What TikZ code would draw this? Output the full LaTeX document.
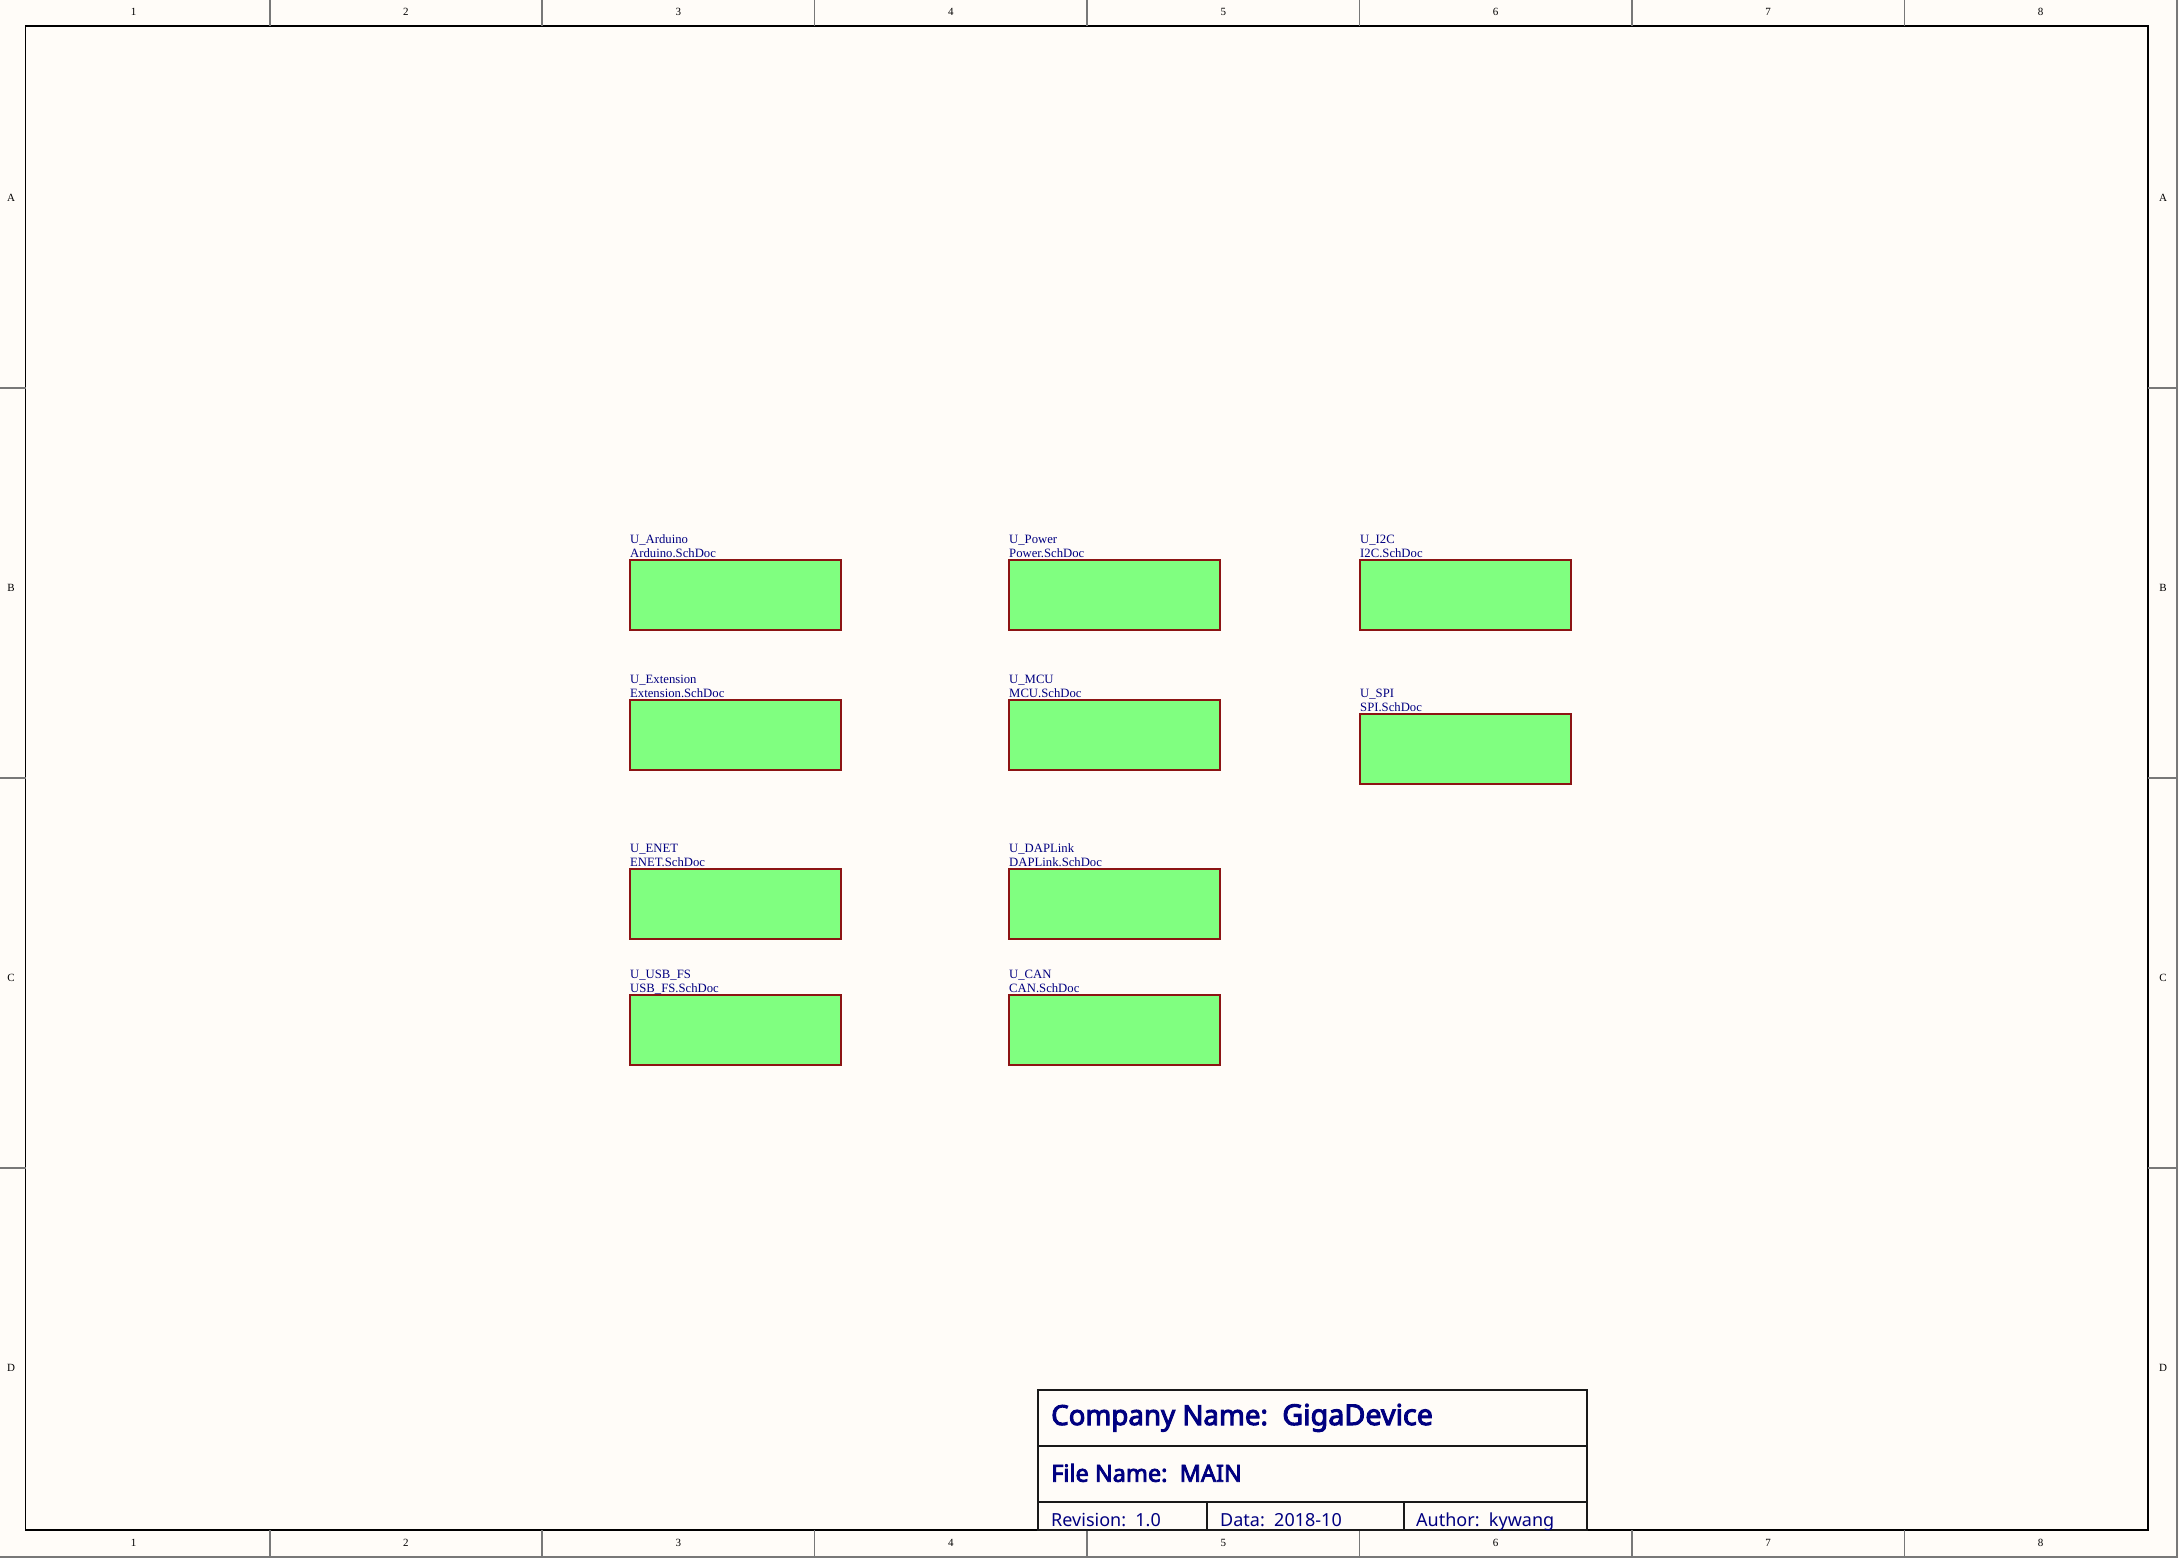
\documentclass[tikz,border=0pt]{standalone}
\usepackage{fontspec}
\setmainfont{Liberation Serif}
\newfontfamily\titlefont{Noto Sans}[AutoFakeBold=3.5]
\usepackage{tikz}

\definecolor{sheetbg}{RGB}{255,252,248}
\definecolor{navy}{RGB}{0,0,128}
\definecolor{sheetgreen}{RGB}{128,255,128}
\definecolor{sheetred}{RGB}{140,20,20}
\definecolor{zonegray}{RGB}{120,120,120}

\tikzset{
  sheetbox/.style={draw=sheetred, fill=sheetgreen, line width=1.6pt, minimum width=211pt, minimum height=70pt, inner sep=0pt, outer sep=0pt, anchor=north west},
  sheetlabel/.style={text=navy, font=\fontsize{12.7}{14}\selectfont, inner sep=0pt, anchor=base west},
  zonelabel/.style={font=\fontsize{11}{13}\selectfont, inner sep=0pt},
  titletext/.style={text=navy, inner sep=0pt, anchor=base west},
}

\begin{document}
\begin{tikzpicture}[x=1pt,y=-1pt]
\fill[sheetbg] (0,0) rectangle (2179,1558);
\useasboundingbox (0,0) rectangle (2179,1558);

% frame and zones
\draw[zonegray, line width=1.5pt] (2177,0) -- (2177,1557) -- (0,1557);
\draw[black, line width=1.4pt] (25.5,26) rectangle (2148,1530);
\foreach \i in {1,...,7}{
  \draw[zonegray, line width=1.6pt] (-2.7+272.43*\i,0) -- (-2.7+272.43*\i,26);
  \draw[zonegray, line width=1.6pt] (-2.7+272.43*\i,1530) -- (-2.7+272.43*\i,1557);
}
\foreach \i in {1,...,8}{
  \node[zonelabel] (coltop-\i) at (-2.7+272.43*\i-136.2,12) {\i};
  \node[zonelabel] (colbot-\i) at (-2.7+272.43*\i-136.2,1543) {\i};
}
\foreach \i in {1,2,3}{
  \draw[zonegray, line width=1.6pt] (0,-2.3+390*\i) -- (25.5,-2.3+390*\i);
  \draw[zonegray, line width=1.6pt] (2148,-2.3+390*\i) -- (2177,-2.3+390*\i);
}
\foreach \l [count=\i] in {A,B,C,D}{
  \node[zonelabel] (rowleft-\l) at (11,390*\i-192) {\l};
  \node[zonelabel] (rowright-\l) at (2163,390*\i-192) {\l};
}

% sheet symbols
\node[sheetbox] (arduino) at (630,560) {};
\node[sheetlabel] (arduino-ref) at (630,543) {U\_Arduino};
\node[sheetlabel] (arduino-doc) at (630,557) {Arduino.SchDoc};

\node[sheetbox] (power) at (1009,560) {};
\node[sheetlabel] (power-ref) at (1009,543) {U\_Power};
\node[sheetlabel] (power-doc) at (1009,557) {Power.SchDoc};

\node[sheetbox] (itwoc) at (1360,560) {};
\node[sheetlabel] (itwoc-ref) at (1360,543) {U\_I2C};
\node[sheetlabel] (itwoc-doc) at (1360,557) {I2C.SchDoc};

\node[sheetbox] (extension) at (630,700) {};
\node[sheetlabel] (extension-ref) at (630,683) {U\_Extension};
\node[sheetlabel] (extension-doc) at (630,697) {Extension.SchDoc};

\node[sheetbox] (mcu) at (1009,700) {};
\node[sheetlabel] (mcu-ref) at (1009,683) {U\_MCU};
\node[sheetlabel] (mcu-doc) at (1009,697) {MCU.SchDoc};

\node[sheetbox] (spi) at (1360,714) {};
\node[sheetlabel] (spi-ref) at (1360,697) {U\_SPI};
\node[sheetlabel] (spi-doc) at (1360,711) {SPI.SchDoc};

\node[sheetbox] (enet) at (630,869) {};
\node[sheetlabel] (enet-ref) at (630,852) {U\_ENET};
\node[sheetlabel] (enet-doc) at (630,866) {ENET.SchDoc};

\node[sheetbox] (daplink) at (1009,869) {};
\node[sheetlabel] (daplink-ref) at (1009,852) {U\_DAPLink};
\node[sheetlabel] (daplink-doc) at (1009,866) {DAPLink.SchDoc};

\node[sheetbox] (usbfs) at (630,995) {};
\node[sheetlabel] (usbfs-ref) at (630,978) {U\_USB\_FS};
\node[sheetlabel] (usbfs-doc) at (630,992) {USB\_FS.SchDoc};

\node[sheetbox] (can) at (1009,995) {};
\node[sheetlabel] (can-ref) at (1009,978) {U\_CAN};
\node[sheetlabel] (can-doc) at (1009,992) {CAN.SchDoc};

% title block
\draw[black!90, line width=1.6pt] (1038,1390) rectangle (1586.7,1530);
\draw[black!90, line width=1.6pt] (1038,1445.7) -- (1586.7,1445.7);
\draw[black!90, line width=1.6pt] (1038,1502) -- (1586.7,1502);
\draw[black!90, line width=1.6pt] (1206.7,1502) -- (1206.7,1530);
\draw[black!90, line width=1.6pt] (1404,1502) -- (1404,1530);
\node[titletext] (company) at (1051,1425) {\titlefont\bfseries\fontsize{27.7}{31}\selectfont Company Name:\ \ {\fontsize{28.7}{32}\selectfont GigaDevice}};
\node[titletext] (filename) at (1051,1481.7) {\titlefont\bfseries\fontsize{23.5}{27}\selectfont File Name:\ \ MAIN};
\node[titletext] (revision) at (1051,1526) {\titlefont\fontsize{18}{22}\selectfont Revision:\ \ 1.0};
\node[titletext] (date) at (1220,1526) {\titlefont\fontsize{18}{22}\selectfont Data:\ \ 2018-10};
\node[titletext] (author) at (1416,1526) {\titlefont\fontsize{18}{22}\selectfont Author:\ \ kywang};

\end{tikzpicture}
\end{document}
